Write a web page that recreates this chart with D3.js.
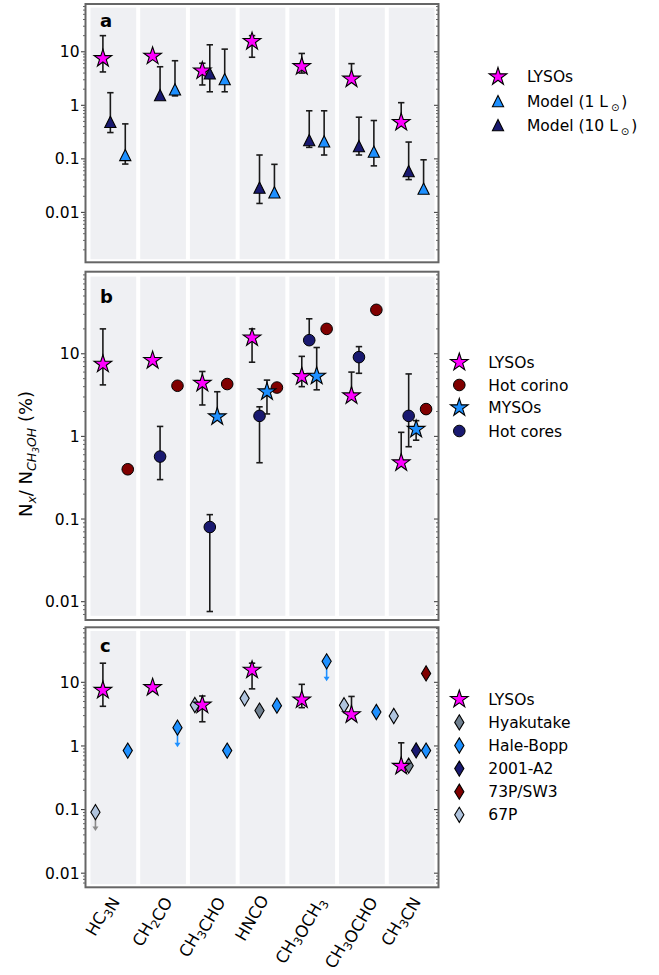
<!DOCTYPE html>
<html>
<head>
<meta charset="utf-8">
<script src="https://cdn.jsdelivr.net/npm/d3@7"></script>
<style>
  body { margin: 0; background: #fff; }
  text { font-family: "DejaVu Sans", sans-serif; fill: #000; }
</style>
</head>
<body>
<svg id="chart" width="659" height="975"></svg>
<script>
// ---------- data ----------
const species = ["HC3N", "CH2CO", "CH3CHO", "HNCO", "CH3OCH3", "CH3OCHO", "CH3CN"];
const yTicks = [0.01, 0.1, 1, 10];
const yTickLabels = ["0.01", "0.1", "1", "10"];

// LYSOs (shared by all three panels)
const lysoVal = [7.5, 8.3, 4.4, 15.6, 5.3, 3.1, 0.48];
const lysoLo  = [4.2, null, 2.4, 7.9, 4.0, null, null];
const lysoHi  = [20, null, 6.1, 20, 9.3, 6.0, 1.12];

// chemical models
const model1Val  = [0.118, 1.98, 3.09, 0.0237, 0.212, 0.136, 0.0277];
const model1Lo   = [0.08, 1.5, 1.79, null, 0.118, 0.074, null];
const model1Hi   = [0.45, 6.8, 11.2, 0.079, 0.79, 0.52, 0.096];
const model10Val = [0.49, 1.55, 3.95, 0.029, 0.224, 0.173, 0.059];
const model10Lo  = [0.31, null, 1.79, 0.0147, 0.164, 0.118, 0.041];
const model10Hi  = [1.72, 5.25, 13.5, 0.118, 0.79, 0.6, 0.206];

// protostellar sources
const corinoVal = [0.4, 4.1, 4.3, 3.9, 20, 34, 2.14];
const coreVal   = [null, 0.57, 0.08, 1.77, 14.6, 9.1, 1.77];
const coreLo    = [null, 0.3, 0.0076, 0.48, null, 5.8, 0.75];
const coreHi    = [null, 1.32, 0.113, 2.28, 26.5, 12.2, 5.7];
const mysoVal   = [null, null, 1.73, 3.47, 5.36, null, 1.22];
const mysoLo    = [null, null, null, 1.87, 3.66, null, 0.9];
const mysoHi    = [null, null, 3.47, 4.8, 11.9, null, 1.55];

// comets (upper limits carry the arrow tip value)
const p67Val      = [0.091, null, 4.4, 5.6, null, 4.36, 2.96];
const p67Limit    = [0.047, null, null, null, null, null, null];
const hyakutakeVal = [null, null, null, 3.6, null, null, 0.49];
const haleBoppVal   = [0.845, 1.94, 0.845, 4.3, 21.4, 3.42, 0.845];
const haleBoppLimit = [null, 0.97, null, null, 10.6, null, null];
const a2001Val  = [null, null, null, null, null, null, 0.85];
const p73Val    = [null, null, null, null, null, null, 13.8];

// ---------- layout ----------
const svg = d3.select("#chart");
const left = 85.5, right = 438.5;
const x = d3.scaleLinear().domain([-0.55, 6.55]).range([left, right]);

const panels = [
  { key: "a", top: 4, bottom: 262.3, domain: [0.00117, 78], letterY: 27 },
  { key: "b", top: 271.7, bottom: 620, domain: [0.006, 98.4], letterY: 303 },
  { key: "c", top: 627.3, bottom: 887.3, domain: [0.006, 73.3], letterY: 652 }
];
panels.forEach(p => {
  p.y = d3.scaleLog().domain(p.domain).range([p.bottom, p.top]);
});

const C = {
  magenta: "#ff00ff", dodger: "#1e90ff", navy: "#191970",
  maroon: "#800000", slate: "#708090", steel: "#b0c4de"
};

// ---------- marker shapes ----------
function starPath(R) {
  const r = R * 0.382;
  let p = "";
  for (let k = 0; k < 10; k++) {
    const a = -Math.PI / 2 + k * Math.PI / 5;
    const rad = k % 2 ? r : R;
    p += (k ? "L" : "M") + (rad * Math.cos(a)).toFixed(2) + "," + (rad * Math.sin(a)).toFixed(2);
  }
  return p + "Z";
}
const shapes = {
  star: starPath(9.3),
  tri: "M0,-5.6L5.6,5.6L-5.6,5.6Z",
  diamond: "M0,-7.6L4.6,0L0,7.6L-4.6,0Z"
};
function drawMarker(g, type, cx, cy, fill) {
  if (type === "circle") {
    g.append("circle").attr("cx", cx).attr("cy", cy).attr("r", 5.8)
      .attr("fill", fill).attr("stroke", "#000").attr("stroke-width", 1);
  } else {
    g.append("path").attr("d", shapes[type])
      .attr("transform", `translate(${cx},${cy})`)
      .attr("fill", fill).attr("stroke", "#000").attr("stroke-width", 1.1)
      .attr("stroke-linejoin", "miter");
  }
}

// ---------- frames, bands, axes ----------
panels.forEach(p => {
  const g = svg.append("g");
  const h = p.bottom - p.top;
  // grey category bands
  species.forEach((s, i) => {
    g.append("rect")
      .attr("x", x(i - 0.45)).attr("width", x(i + 0.47) - x(i - 0.45))
      .attr("y", p.top + h * 0.014).attr("height", h * 0.974)
      .attr("fill", "#eff0f3");
  });
  // minor ticks
  const minors = [];
  for (let d = -3; d <= 2; d++) for (let m = 2; m <= 9; m++) {
    const v = m * Math.pow(10, d);
    if (v > p.domain[0] && v < p.domain[1]) minors.push(v);
  }
  minors.forEach(v => {
    g.append("line").attr("x1", left - 2.5).attr("x2", left)
      .attr("y1", p.y(v)).attr("y2", p.y(v)).attr("stroke", "#555").attr("stroke-width", 0.9);
    g.append("line").attr("x1", right).attr("x2", right - 2.5)
      .attr("y1", p.y(v)).attr("y2", p.y(v)).attr("stroke", "#555").attr("stroke-width", 0.9);
  });
  yTicks.forEach((v, k) => {
    g.append("line").attr("x1", left - 4.5).attr("x2", left)
      .attr("y1", p.y(v)).attr("y2", p.y(v)).attr("stroke", "#444").attr("stroke-width", 1.1);
    g.append("line").attr("x1", right).attr("x2", right - 4.5)
      .attr("y1", p.y(v)).attr("y2", p.y(v)).attr("stroke", "#444").attr("stroke-width", 1.1);
    g.append("text").attr("x", left - 6).attr("y", p.y(v)).attr("dy", "0.36em")
      .attr("text-anchor", "end").attr("font-size", 15.5).text(yTickLabels[k]);
  });
  g.append("rect").attr("x", left).attr("y", p.top).attr("width", right - left).attr("height", h)
    .attr("fill", "none").attr("stroke", "#666").attr("stroke-width", 2);
  g.append("text").attr("x", 100).attr("y", p.letterY).attr("font-size", 18)
    .attr("font-weight", "bold").text(p.key);
  p.g = svg.append("g");
});

// ---------- series drawing ----------
function errorBars(g, y, xs, vals, lo, hi) {
  vals.forEach((v, i) => {
    if (v == null) return;
    const l = lo && lo[i] != null ? lo[i] : v;
    const u = hi && hi[i] != null ? hi[i] : v;
    if (l === v && u === v) return;
    const cx = xs(i);
    g.append("line").attr("x1", cx).attr("x2", cx).attr("y1", y(l)).attr("y2", y(u))
      .attr("stroke", "#1a1a1a").attr("stroke-width", 1.6);
    [[lo, l], [hi, u]].forEach(([arr, val]) => {
      if (arr && arr[i] != null) {
        g.append("line").attr("x1", cx - 3.2).attr("x2", cx + 3.2)
          .attr("y1", y(val)).attr("y2", y(val)).attr("stroke", "#1a1a1a").attr("stroke-width", 1.6);
      }
    });
  });
}
function limitArrows(g, y, xs, vals, tips, color) {
  vals.forEach((v, i) => {
    if (v == null || tips[i] == null) return;
    const cx = xs(i), y0 = y(v), y1 = y(tips[i]);
    g.append("line").attr("x1", cx).attr("x2", cx).attr("y1", y0).attr("y2", y1 - 3)
      .attr("stroke", color).attr("stroke-width", 1.6);
    g.append("path").attr("d", `M${cx - 3},${y1 - 4}L${cx + 3},${y1 - 4}L${cx},${y1 + 0.5}Z`)
      .attr("fill", color);
  });
}
function series(p, s) {
  const xs = i => x(i + s.off);
  if (s.lo || s.hi) errorBars(p.g, p.y, xs, s.vals, s.lo, s.hi);
  if (s.tips) limitArrows(p.g, p.y, xs, s.vals, s.tips, s.tipColor);
  s.vals.forEach((v, i) => {
    if (v == null) return;
    drawMarker(p.g, s.mark, xs(i), p.y(v), s.fill);
  });
}

const lyso = { name: "LYSOs", vals: lysoVal, lo: lysoLo, hi: lysoHi, off: -0.2, mark: "star", fill: C.magenta };
const m1 = { name: "Model (1 L", sun: true, vals: model1Val, lo: model1Lo, hi: model1Hi, off: 0.25, mark: "tri", fill: C.dodger };
const m10 = { name: "Model (10 L", sun: true, vals: model10Val, lo: model10Lo, hi: model10Hi, off: -0.05, mark: "tri", fill: C.navy };
const corino = { name: "Hot corino", vals: corinoVal, off: 0.3, mark: "circle", fill: C.maroon };
const core = { name: "Hot cores", vals: coreVal, lo: coreLo, hi: coreHi, off: -0.05, mark: "circle", fill: C.navy };
const myso = { name: "MYSOs", vals: mysoVal, lo: mysoLo, hi: mysoHi, off: 0.1, mark: "star", fill: C.dodger };
const hya = { name: "Hyakutake", vals: hyakutakeVal, off: -0.05, mark: "diamond", fill: C.slate };
const hb = { name: "Hale-Bopp", vals: haleBoppVal, tips: haleBoppLimit, tipColor: C.dodger, off: 0.3, mark: "diamond", fill: C.dodger };
const a2 = { name: "2001-A2", vals: a2001Val, off: 0.1, mark: "diamond", fill: C.navy };
const p73 = { name: "73P/SW3", vals: p73Val, off: 0.3, mark: "diamond", fill: C.maroon };
const p67 = { name: "67P", vals: p67Val, tips: p67Limit, tipColor: "#8a8a8a", off: -0.35, mark: "diamond", fill: C.steel };

[lyso, m10, m1].forEach(s => series(panels[0], s));
[corino, core, myso, lyso].forEach(s => series(panels[1], s));
[p67, hya, hb, a2, p73, lyso].forEach(s => series(panels[2], s));

// ---------- legends ----------
function legend(entries, mx, tx, rows) {
  const g = svg.append("g");
  entries.forEach((s, k) => {
    drawMarker(g, s.mark, mx, rows[k], s.fill);
    const t = g.append("text").attr("x", tx).attr("y", rows[k]).attr("dy", "0.36em")
      .attr("font-size", 15.5);
    t.append("tspan").text(s.name);
    if (s.sun) {
      t.append("tspan").attr("font-size", 10).attr("dx", 3).attr("dy", 4).text("\u2299");
      t.append("tspan").attr("dx", 2).attr("dy", -4).text(")");
    }
  });
}
legend([lyso, m1, m10], 498, 527, [76.7, 101.2, 125.2]);
legend([lyso, corino, myso, core], 459.3, 488.3, [362.3, 385, 407.7, 431]);
legend([lyso, hya, hb, a2, p73, p67], 459.3, 488.3, [699.3, 722.4, 745.5, 768.6, 791.7, 814.8]);

// ---------- species labels (digits as subscripts) ----------
const labelTop = 892;
species.forEach((s, i) => {
  const g = svg.append("g");
  const t = g.append("text").attr("font-size", 16.5);
  s.match(/[A-Za-z]+|\d+/g).forEach(part => {
    if (/\d/.test(part)) {
      t.append("tspan").attr("font-size", 11.5).attr("dy", 4).text(part);
      t.append("tspan").attr("dy", -4).text("");
    } else {
      t.append("tspan").text(part);
    }
  });
  const bb = t.node().getBBox();
  const cx = bb.x + bb.width / 2, cy = bb.y + bb.height / 2;
  const a = Math.PI / 3;
  const H = bb.width * Math.sin(a) + bb.height * Math.cos(a);
  t.attr("transform",
    `translate(${x(i - 0.2)},${labelTop + H / 2}) rotate(-60) translate(${-cx},${-cy})`);
});

// ---------- y axis title ----------
const yt = svg.append("text").attr("font-size", 18)
  .attr("transform", "translate(32,454) rotate(-90)").attr("text-anchor", "middle");
yt.append("tspan").text("N");
yt.append("tspan").attr("font-size", 12.5).attr("font-style", "italic").attr("dy", 4).text("x");
yt.append("tspan").attr("dy", -4).text("/ N");
yt.append("tspan").attr("font-size", 12.5).attr("font-style", "italic").attr("dy", 4).text("CH");
yt.append("tspan").attr("font-size", 9).attr("font-style", "italic").attr("dy", 2.5).text("3");
yt.append("tspan").attr("font-size", 12.5).attr("font-style", "italic").attr("dy", -2.5).text("OH");
yt.append("tspan").attr("dy", -4).text(" (%)");
</script>
</body>
</html>
